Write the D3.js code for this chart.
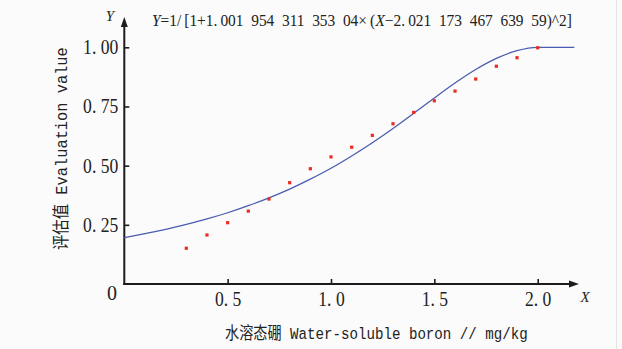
<!DOCTYPE html>
<html>
<head>
<meta charset="utf-8">
<script src="https://cdn.jsdelivr.net/npm/d3@7"></script>
<style>
  html, body { margin: 0; padding: 0; background: #fbfbfb; }
  svg { display: block; }
</style>
</head>
<body>
<svg id="chart"></svg>
<script>
// measured points (red squares)
var pointX = [0.3, 0.4, 0.5, 0.6, 0.7, 0.8, 0.9, 1.0, 1.1, 1.2, 1.3, 1.4, 1.5, 1.6, 1.7, 1.8, 1.9, 2.0];
var pointY = [0.151, 0.207, 0.259, 0.308, 0.359, 0.428, 0.487, 0.537, 0.578, 0.628, 0.677, 0.725, 0.774, 0.815, 0.866, 0.920, 0.956, 0.998];

// fitted curve, values
var curveX = [0, 0.1, 0.2, 0.3, 0.4, 0.5, 0.6, 0.7, 0.8, 0.9, 1.0, 1.1, 1.2, 1.3, 1.4, 1.5, 1.6, 1.7, 1.8, 1.9, 2.0, 2.021, 2.177];
var curveY = [0.196, 0.213, 0.231, 0.252, 0.275, 0.301, 0.331, 0.364, 0.401, 0.443, 0.489, 0.541, 0.597, 0.657, 0.721, 0.786, 0.849, 0.906, 0.953, 0.986, 1.0, 1.0, 1.0];

var xTicks = [0.5, 1.0, 1.5, 2.0];
var xTickLabels = ["0. 5", "1. 0", "1. 5", "2. 0"];
var yTicks = [0.25, 0.5, 0.75, 1.0];
var yTickLabels = ["0. 25", "0. 50", "0. 75", "1. 00"];

var W = 622, H = 349;
var svg = d3.select("#chart").attr("width", W).attr("height", H);

svg.append("rect").attr("width", W).attr("height", H).attr("fill", "#fbfbfb");
svg.append("line")
  .attr("x1", 616.5).attr("x2", 616.5).attr("y1", 0).attr("y2", H)
  .attr("stroke", "#e4e4e4");

var x = d3.scaleLinear().domain([0, 2]).range([124.3, 537.7]);
var y = d3.scaleLinear().domain([0, 1]).range([284, 47.3]);

var axisColor = "#1c1c1c";
var serif = "'Liberation Serif', 'DejaVu Serif', serif";
var cjk = "'Noto Sans CJK SC', sans-serif";
var mono = "'Liberation Mono', 'DejaVu Sans Mono', monospace";

// condense a text node horizontally
function squeeze(sel, k) {
  sel.each(function () {
    var len = this.getComputedTextLength();
    d3.select(this).attr("textLength", len * k).attr("lengthAdjust", "spacingAndGlyphs");
  });
}

// lay out several text pieces side by side, scaled to a total width
function runText(parent, parts, x0, base, total, size) {
  var g = parent.append("g");
  var nodes = parts.map(function (p) {
    return g.append("text")
      .attr("fill", "#222")
      .style("font-family", p.font)
      .style("font-style", p.italic ? "italic" : "normal")
      .style("font-size", size + "px")
      .text(p.text);
  });
  var widths = nodes.map((n) => n.node().getComputedTextLength());
  var k = total / d3.sum(widths);
  var cx = 0;
  nodes.forEach(function (n, i) {
    n.attr("x", cx);
    cx += widths[i];
  });
  g.attr("transform", "translate(" + x0 + "," + base + ") scale(" + k + ",1)");
}

// y axis
var yAxis = d3.axisLeft(y)
  .tickValues(yTicks)
  .tickSizeInner(-5)
  .tickSizeOuter(0)
  .tickPadding(6)
  .tickFormat((d, i) => yTickLabels[i]);

var gy = svg.append("g").attr("transform", "translate(" + x(0) + ",0)").call(yAxis);
gy.select(".domain").remove();
gy.selectAll(".tick line").attr("stroke", axisColor).attr("stroke-width", 1.6);
gy.selectAll(".tick text")
  .attr("fill", "#222")
  .style("font-family", serif)
  .style("font-size", "20px");
squeeze(gy.selectAll(".tick text"), 0.88);

// x axis
var xAxis = d3.axisBottom(x)
  .tickValues(xTicks)
  .tickSizeInner(-5)
  .tickSizeOuter(0)
  .tickPadding(8)
  .tickFormat((d, i) => xTickLabels[i]);

var gx = svg.append("g").attr("transform", "translate(0," + y(0) + ")").call(xAxis);
gx.select(".domain").remove();
gx.selectAll(".tick line").attr("stroke", axisColor).attr("stroke-width", 1.6);
gx.selectAll(".tick text")
  .attr("fill", "#222")
  .style("font-family", serif)
  .style("font-size", "20px");
squeeze(gx.selectAll(".tick text"), 0.88);

// origin label
svg.append("text")
  .attr("x", 112).attr("y", 300)
  .attr("text-anchor", "middle")
  .attr("fill", "#222")
  .style("font-family", serif)
  .style("font-size", "20px")
  .text("0");

// axis lines with arrows
svg.append("line")
  .attr("x1", x(0)).attr("x2", x(0)).attr("y1", y(0) + 1).attr("y2", 24)
  .attr("stroke", axisColor).attr("stroke-width", 2);
svg.append("path")
  .attr("d", d3.line()([[x(0), 17], [x(0) - 3.5, 27], [x(0) + 3.5, 27]]) + "Z")
  .attr("fill", axisColor);

svg.append("line")
  .attr("x1", x(0) - 1).attr("x2", 571).attr("y1", y(0)).attr("y2", y(0))
  .attr("stroke", axisColor).attr("stroke-width", 2);
svg.append("path")
  .attr("d", d3.line()([[579, y(0)], [569, y(0) - 3.5], [569, y(0) + 3.5]]) + "Z")
  .attr("fill", axisColor);

// axis letters
svg.append("text")
  .attr("x", 110).attr("y", 21)
  .attr("text-anchor", "middle")
  .attr("fill", "#222")
  .style("font-family", serif)
  .style("font-style", "italic")
  .style("font-size", "15px")
  .text("Y");
svg.append("text")
  .attr("x", 585).attr("y", 302)
  .attr("text-anchor", "middle")
  .attr("fill", "#222")
  .style("font-family", serif)
  .style("font-style", "italic")
  .style("font-size", "15px")
  .text("X");

// formula
runText(svg, [
  { text: "Y", font: serif, italic: true },
  { text: "=1/\u2009[1+1.\u2009001\u2002954\u2002311\u2002353\u200204\u00d7\u2009(", font: serif },
  { text: "X", font: serif, italic: true },
  { text: "\u22122.\u2009021\u2002173\u2002467\u2002639\u200259)^2]", font: serif }
], 152, 26, 420, 16);

// curve
var line = d3.line()
  .x((d) => x(d[0]))
  .y((d) => y(d[1]))
  .curve(d3.curveMonotoneX);

svg.append("path")
  .datum(curveX.map((v, i) => [v, curveY[i]]))
  .attr("d", line)
  .attr("fill", "none")
  .attr("stroke", "#4a5cb0")
  .attr("stroke-width", 1.3);

// points
svg.append("g")
  .selectAll("rect")
  .data(pointX.map((v, i) => [v, pointY[i]]))
  .join("rect")
  .attr("x", (d) => x(d[0]) - 1.6)
  .attr("y", (d) => y(d[1]) - 1.6)
  .attr("width", 3.2)
  .attr("height", 3.2)
  .attr("fill", "#ec2a22");

// axis titles
runText(svg, [
  { text: "水溶态硼", font: cjk },
  { text: "\u00a0Water-soluble boron // mg/kg", font: mono }
], 225, 339, 303, 17);

var gyt = svg.append("g").attr("transform", "translate(61,148.5) rotate(-90)");
runText(gyt, [
  { text: "评估值", font: cjk },
  { text: "\u00a0Evaluation value", font: mono }
], -101.5, 6, 203, 17);
</script>
</body>
</html>
